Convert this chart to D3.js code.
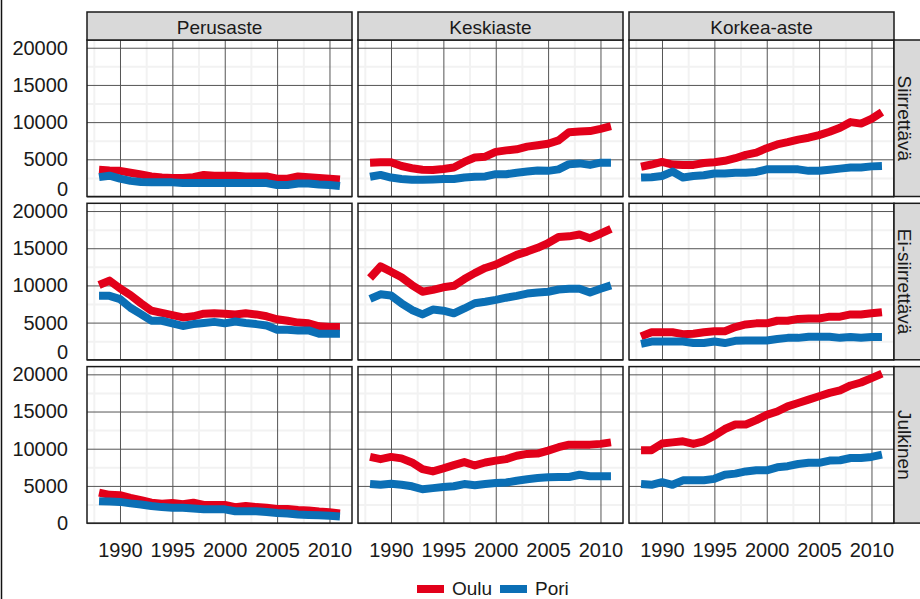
<!DOCTYPE html>
<html>
<head>
<meta charset="utf-8">
<script src="https://cdn.jsdelivr.net/npm/d3@7"></script>
<style>
  body { margin: 0; background: #fff; }
  svg text { font-family: "Liberation Sans", Arial, sans-serif; fill: #1a1a1a; }
</style>
</head>
<body>
<div id="chart"></div>
<script>
var years = [1988, 1989, 1990, 1991, 1992, 1993, 1994, 1995, 1996, 1997, 1998, 1999,
  2000, 2001, 2002, 2003, 2004, 2005, 2006, 2007, 2008, 2009, 2010, 2011]
var educations = ['Perusaste', 'Keskiaste', 'Korkea-aste']
var sectors = ['Siirrettävä', 'Ei-siirrettävä', 'Julkinen']
var cities = ['Oulu', 'Pori']
var cityColors = ['#e2001a', '#0b6fb5']
var yTicks = [0, 5000, 10000, 15000, 20000]
var yMinor = [2500, 7500, 12500, 17500]
var xTicks = [1990, 1995, 2000, 2005, 2010]
var xMinor = [1987.5, 1992.5, 1997.5, 2002.5, 2007.5]

// Siirrettävä
var ouluPerusSiirr = [3600, 3500, 3450, 3200, 2950, 2700, 2550, 2500, 2500, 2600, 2900, 2800, 2800, 2800, 2700, 2700, 2700, 2400, 2400, 2700, 2600, 2500, 2400, 2300]
var poriPerusSiirr = [2600, 2800, 2400, 2100, 1950, 1900, 1900, 1900, 1800, 1800, 1800, 1800, 1800, 1800, 1800, 1800, 1800, 1550, 1550, 1750, 1750, 1600, 1550, 1400]
var ouluKeskiSiirr = [4550, 4600, 4600, 4100, 3800, 3600, 3550, 3700, 3900, 4650, 5250, 5350, 6000, 6200, 6350, 6700, 6900, 7100, 7550, 8650, 8750, 8800, 9100, 9450]
var poriKeskiSiirr = [2650, 2900, 2550, 2350, 2250, 2250, 2300, 2350, 2350, 2550, 2650, 2700, 3000, 3000, 3200, 3350, 3500, 3450, 3650, 4350, 4450, 4250, 4550, 4550]
var ouluKorkeaSiirr = [4000, 4300, 4650, 4300, 4250, 4250, 4500, 4600, 4800, 5150, 5600, 5900, 6500, 7000, 7300, 7650, 7900, 8250, 8700, 9250, 10000, 9800, 10450, 11350]
var poriKorkeaSiirr = [2550, 2600, 2750, 3350, 2550, 2750, 2850, 3100, 3100, 3200, 3200, 3300, 3650, 3650, 3650, 3650, 3450, 3450, 3600, 3750, 3900, 3900, 4050, 4100]

// Ei-siirrettävä
var ouluPerusEi = [10050, 10650, 9600, 8700, 7600, 6600, 6300, 6000, 5700, 5850, 6200, 6250, 6200, 6100, 6250, 6100, 5850, 5450, 5250, 5000, 4900, 4500, 4400, 4400]
var poriPerusEi = [8600, 8600, 8150, 7000, 6150, 5250, 5250, 4900, 4550, 4800, 4950, 5100, 4900, 5150, 4950, 4800, 4600, 4050, 4050, 3950, 3950, 3500, 3500, 3500]
var ouluKeskiEi = [11000, 12550, 11850, 11100, 10050, 9150, 9400, 9750, 9950, 10850, 11650, 12350, 12800, 13450, 14100, 14550, 15050, 15700, 16500, 16600, 16850, 16350, 16950, 17600]
var poriKeskiEi = [8200, 8800, 8650, 7600, 6700, 6100, 6750, 6600, 6250, 6900, 7600, 7800, 8050, 8350, 8600, 8900, 9050, 9150, 9450, 9550, 9550, 9050, 9550, 10000]
var ouluKorkeaEi = [3150, 3700, 3700, 3700, 3450, 3500, 3700, 3850, 3850, 4400, 4750, 4900, 4900, 5250, 5250, 5500, 5550, 5550, 5800, 5800, 6100, 6100, 6250, 6400]
var poriKorkeaEi = [2150, 2450, 2450, 2450, 2450, 2250, 2250, 2450, 2250, 2550, 2600, 2600, 2600, 2800, 2950, 2950, 3100, 3100, 3100, 2950, 3050, 2950, 3050, 3050]

// Julkinen
var ouluPerusJulk = [4100, 3800, 3750, 3400, 3100, 2750, 2600, 2700, 2550, 2750, 2450, 2450, 2450, 2150, 2300, 2150, 2050, 1900, 1900, 1750, 1700, 1550, 1450, 1300]
var poriPerusJulk = [2950, 2900, 2850, 2650, 2500, 2300, 2150, 2050, 2050, 1950, 1850, 1850, 1850, 1600, 1600, 1600, 1500, 1350, 1300, 1150, 1100, 1050, 1000, 900]
var ouluKeskiJulk = [8900, 8600, 8900, 8700, 8150, 7250, 6950, 7350, 7800, 8200, 7750, 8150, 8400, 8600, 9050, 9300, 9350, 9750, 10200, 10550, 10550, 10550, 10650, 10850]
var poriKeskiJulk = [5250, 5150, 5300, 5150, 4950, 4550, 4700, 4850, 4950, 5250, 5100, 5250, 5400, 5450, 5700, 5900, 6050, 6150, 6200, 6200, 6500, 6300, 6300, 6300]
var ouluKorkeaJulk = [9800, 9800, 10700, 10850, 11000, 10650, 11000, 11750, 12650, 13250, 13250, 13850, 14550, 15000, 15700, 16150, 16600, 17050, 17500, 17850, 18500, 18900, 19500, 20100]
var poriKorkeaJulk = [5250, 5150, 5500, 5150, 5750, 5750, 5750, 5950, 6500, 6650, 6950, 7100, 7100, 7500, 7650, 7950, 8100, 8100, 8400, 8450, 8750, 8750, 8900, 9200]

// rivit = sektori, sarakkeet = koulutusaste, [Oulu, Pori]
var panels = [
  [[ouluPerusSiirr, poriPerusSiirr], [ouluKeskiSiirr, poriKeskiSiirr], [ouluKorkeaSiirr, poriKorkeaSiirr]],
  [[ouluPerusEi, poriPerusEi], [ouluKeskiEi, poriKeskiEi], [ouluKorkeaEi, poriKorkeaEi]],
  [[ouluPerusJulk, poriPerusJulk], [ouluKeskiJulk, poriKeskiJulk], [ouluKorkeaJulk, poriKorkeaJulk]]
]

var width = 920, height = 599
var colX = [87, 358, 629], panelW = 265
var rowY = [40, 203.3, 366.6], panelH = 156.5
var stripH = 28

var svg = d3.select('#chart')
  .append('svg')
  .attr('width', width)
  .attr('height', height)

var x = d3.scaleLinear().domain([1986.85, 2012.15]).range([0, panelW])
var y = d3.scaleLinear().domain([0, 21040]).range([panelH, 0])

var line = d3.line()
  .x(function(d, i) { return x(years[i]) })
  .y(function(d) { return y(d) })

// vasen kehys
svg.append('line')
  .attr('x1', 1.5).attr('x2', 1.5)
  .attr('y1', 0).attr('y2', height)
  .attr('stroke', '#111')
  .attr('stroke-width', 1.5)

panels.forEach(function(row, r) {
  row.forEach(function(pair, c) {
    var g = svg.append('g')
      .attr('transform', 'translate(' + colX[c] + ',' + rowY[r] + ')')

    g.append('rect')
      .attr('width', panelW)
      .attr('height', panelH)
      .attr('fill', '#fff')

    // apuruudukko
    g.append('g')
      .call(d3.axisBottom(x).tickValues(xMinor).tickSize(panelH).tickFormat(''))
      .call(function(a) {
        a.select('.domain').remove()
        a.selectAll('line').attr('stroke', '#f2f2f2').attr('stroke-width', 2)
      })
    g.append('g')
      .call(d3.axisRight(y).tickValues(yMinor).tickSize(panelW).tickFormat(''))
      .call(function(a) {
        a.select('.domain').remove()
        a.selectAll('line').attr('stroke', '#f2f2f2').attr('stroke-width', 2)
      })

    // pääruudukko
    g.append('g')
      .call(d3.axisBottom(x).tickValues(xTicks).tickSize(panelH).tickFormat(''))
      .call(function(a) {
        a.select('.domain').remove()
        a.selectAll('line').attr('stroke', '#555').attr('stroke-width', 1)
      })
    g.append('g')
      .call(d3.axisRight(y).tickValues(yTicks).tickSize(panelW).tickFormat(''))
      .call(function(a) {
        a.select('.domain').remove()
        a.selectAll('line').attr('stroke', '#555').attr('stroke-width', 1)
      })

    // viivat: Oulu ensin, Pori päälle
    pair.forEach(function(values, k) {
      g.append('path')
        .datum(values)
        .attr('fill', 'none')
        .attr('stroke', cityColors[k])
        .attr('stroke-width', 8)
        .attr('stroke-linejoin', 'round')
        .attr('stroke-linecap', 'butt')
        .attr('d', line)
    })

    g.append('rect')
      .attr('width', panelW)
      .attr('height', panelH)
      .attr('fill', 'none')
      .attr('stroke', '#1a1a1a')
      .attr('stroke-width', 1.5)

    // y-akselin tekstit vasempaan sarakkeeseen
    if (c === 0) {
      g.append('g')
        .call(d3.axisLeft(y).tickValues(yTicks).tickSize(0).tickPadding(19).tickFormat(d3.format('d')))
        .call(function(a) {
          a.select('.domain').remove()
          a.selectAll('text')
            .attr('font-size', '20px')
            .attr('fill', '#1a1a1a')
            .attr('dy', function(d) { return d === 0 && r < 2 ? '-0.05em' : '0.32em' })
        })
    }
    // x-akselin tekstit alariville
    if (r === 2) {
      g.append('g')
        .attr('transform', 'translate(0,' + panelH + ')')
        .call(d3.axisBottom(x).tickValues(xTicks).tickSize(0).tickPadding(20).tickFormat(d3.format('d')))
        .call(function(a) {
          a.select('.domain').remove()
          a.selectAll('text').attr('font-size', '20px').attr('fill', '#1a1a1a')
        })
    }
  })
})

// otsakkeet ylhäällä
educations.forEach(function(name, c) {
  svg.append('rect')
    .attr('x', colX[c]).attr('y', rowY[0] - stripH)
    .attr('width', panelW).attr('height', stripH)
    .attr('fill', '#d9d9d9')
    .attr('stroke', '#1a1a1a')
    .attr('stroke-width', 1.5)
  svg.append('text')
    .attr('x', colX[c] + panelW / 2)
    .attr('y', rowY[0] - 6)
    .attr('text-anchor', 'middle')
    .attr('font-size', '19px')
    .text(name)
})

// otsakkeet oikealla
sectors.forEach(function(name, r) {
  var sx = colX[2] + panelW
  svg.append('rect')
    .attr('x', sx).attr('y', rowY[r])
    .attr('width', stripH).attr('height', panelH)
    .attr('fill', '#d9d9d9')
    .attr('stroke', '#1a1a1a')
    .attr('stroke-width', 1.5)
  svg.append('text')
    .attr('transform', 'translate(' + (sx + 4) + ',' + (rowY[r] + panelH / 2) + ') rotate(90)')
    .attr('text-anchor', 'middle')
    .attr('font-size', '19px')
    .text(name)
})

// selite
var legend = svg.append('g').attr('transform', 'translate(0,589)')
var legendX = [417, 500]
cities.forEach(function(name, k) {
  legend.append('line')
    .attr('x1', legendX[k]).attr('x2', legendX[k] + 27)
    .attr('y1', 0).attr('y2', 0)
    .attr('stroke', cityColors[k])
    .attr('stroke-width', 8)
  legend.append('text')
    .attr('x', legendX[k] + 35)
    .attr('y', 6)
    .attr('font-size', '19px')
    .text(name)
})
</script>
</body>
</html>
